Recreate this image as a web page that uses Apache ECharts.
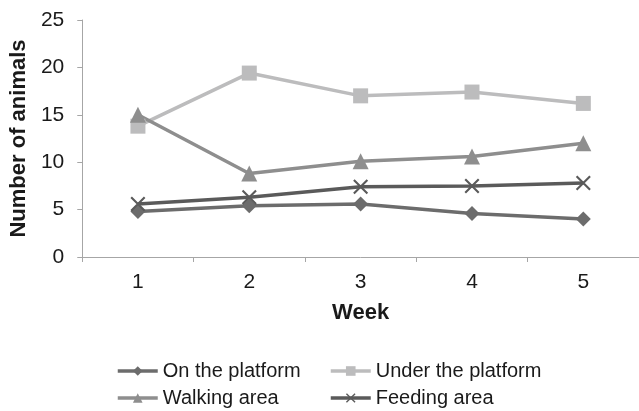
<!DOCTYPE html>
<html>
<head>
<meta charset="utf-8">
<script src="https://cdn.jsdelivr.net/npm/echarts@6/dist/echarts.min.js"></script>
<style>html,body{margin:0;padding:0;background:#fff}#c{width:639px;height:411px}</style>
</head>
<body>
<div id="c"></div>
<script>
const weeks = ['1', '2', '3', '4', '5'];
const onPlatform = [4.8, 5.4, 5.6, 4.6, 4.0];
const underPlatform = [13.8, 19.4, 17.0, 17.4, 16.2];
const walkingArea = [15.0, 8.8, 10.1, 10.6, 12.0];
const feedingArea = [5.6, 6.3, 7.4, 7.5, 7.8];
const seriesNames = ['On the platform', 'Under the platform', 'Walking area', 'Feeding area'];

const FONT = '"Liberation Sans", Arial, sans-serif';
const TXT = '#1a1a1a';
const crossPath = 'path://M0,1 L1,0 L10,9 L9,10 Z M9,0 L10,1 L1,10 L0,9 Z';

const chart = echarts.init(document.getElementById('c'), null, {renderer: 'canvas'});

function legendAt(name, left, top) {
  return {
    data: [name], left: left, top: top, orient: 'horizontal',
    itemWidth: 40, itemHeight: 12, padding: 0,
    lineStyle: {width: 3.5},
    textStyle: {fontFamily: FONT, fontSize: 20, color: TXT},
    selectedMode: false
  };
}

chart.setOption({
  animation: false,
  backgroundColor: '#fff',
  grid: {left: 80, top: 20, right: -9, bottom: 154, containLabel: false},
  legend: [
    legendAt(seriesNames[0], 116, 361),
    legendAt(seriesNames[1], 329, 361),
    legendAt(seriesNames[2], 116, 388),
    legendAt(seriesNames[3], 329, 388)
  ],
  xAxis: {
    type: 'category', data: weeks, boundaryGap: true,
    name: 'Week', nameLocation: 'middle', nameGap: 45,
    nameTextStyle: {fontFamily: FONT, fontSize: 22, fontWeight: 'bold', color: TXT},
    axisLine: {lineStyle: {color: '#a6a6a6', width: 1}},
    axisTick: {show: true, length: 5, lineStyle: {color: '#a6a6a6'}},
    axisLabel: {fontFamily: FONT, fontSize: 21, color: TXT, margin: 15},
    splitLine: {show: false}
  },
  yAxis: {
    type: 'value', min: 0, max: 25, interval: 5,
    name: 'Number of animals', nameLocation: 'middle', nameGap: 51,
    nameTextStyle: {fontFamily: FONT, fontSize: 22, fontWeight: 'bold', color: TXT},
    axisLine: {show: true, lineStyle: {color: '#a6a6a6', width: 1}},
    axisTick: {show: true, length: 5, lineStyle: {color: '#a6a6a6'}},
    axisLabel: {fontFamily: FONT, fontSize: 21, color: TXT, margin: 18},
    splitLine: {show: false}
  },
  series: [
    {
      name: seriesNames[0], type: 'line', data: onPlatform,
      symbol: 'diamond', symbolSize: 15, showSymbol: true,
      lineStyle: {color: '#6c6c6c', width: 3.5},
      itemStyle: {color: '#6c6c6c'}
    },
    {
      name: seriesNames[1], type: 'line', data: underPlatform,
      symbol: 'rect', symbolSize: 15,
      lineStyle: {color: '#bcbcbd', width: 3.5},
      itemStyle: {color: '#bcbcbd'}
    },
    {
      name: seriesNames[2], type: 'line', data: walkingArea,
      symbol: 'triangle', symbolSize: 16,
      lineStyle: {color: '#8e8e8e', width: 3.5},
      itemStyle: {color: '#8e8e8e'}
    },
    {
      name: seriesNames[3], type: 'line', data: feedingArea,
      symbol: crossPath, symbolSize: 15,
      lineStyle: {color: '#5a5a5a', width: 3.5},
      itemStyle: {color: '#5a5a5a'}
    }
  ]
});
</script>
</body>
</html>
